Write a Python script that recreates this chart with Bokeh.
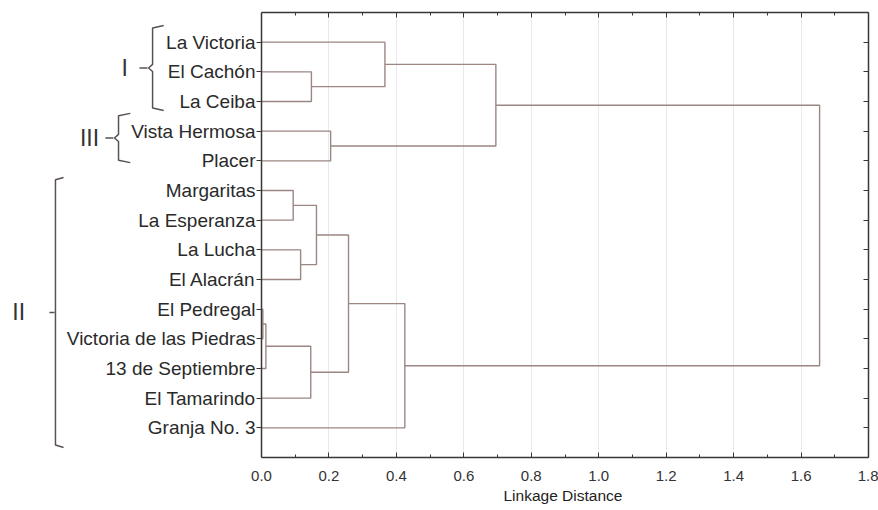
from bokeh.plotting import figure
from bokeh.models import Range1d, LinearAxis, FixedTicker, Title
from bokeh.core.properties import value
from bokeh.embed import file_html
from bokeh.resources import INLINE

# ---------------- data ----------------
leaves = ["La Victoria", "El Cachón", "La Ceiba", "Vista Hermosa", "Placer",
          "Margaritas", "La Esperanza", "La Lucha", "El Alacrán", "El Pedregal",
          "Victoria de las Piedras", "13 de Septiembre", "El Tamarindo", "Granja No. 3"]
# merges (numbered 14, 15, ... in order): child a, child b, linkage distance
merge_a = [1, 0, 3, 15, 5, 7, 18, 9, 21, 22, 20, 24, 17]
merge_b = [2, 14, 4, 16, 6, 8, 19, 10, 11, 12, 23, 13, 25]
merge_dist = [0.148, 0.366, 0.205, 0.695, 0.094, 0.116, 0.163, 0.004, 0.013,
              0.146, 0.258, 0.425, 1.655]

x_ticks = [0.0, 0.2, 0.4, 0.6, 0.8, 1.0, 1.2, 1.4, 1.6, 1.8]
x_tick_labels = ["0.0", "0.2", "0.4", "0.6", "0.8", "1.0", "1.2", "1.4", "1.6", "1.8"]
x_minor = [0.1, 0.3, 0.5, 0.7, 0.9, 1.1, 1.3, 1.5, 1.7]
x_title = "Linkage Distance"

# cluster groups marked by braces left of the labels
group_names = ["I", "III", "II"]
group_first = [0, 3, 5]
group_last = [2, 4, 13]

# ---------------- styling / layout constants ----------------
LINE = "#9c8683"
AXIS = "#3a3636"
BRACE = "#5a5252"
FONT = "Liberation Sans"
X_MIN = -0.774          # left part of the frame holds labels and braces

brace_x = [-0.323, -0.424, -0.611]
brace_hook = [0.033, 0.035, 0.024]
brace_top_pad = [0.56, 0.60, 0.44]
brace_bot_pad = [0.30, 0.06, 0.66]
brace_kink = [0.012, 0.012, 0.0]
brace_dash = [0.027, 0.027, 0.018]
numeral_x = [-0.406, -0.51, -0.72]

n = len(leaves)
leaf_pos = [i + 1 for i in range(n)]

p = figure(frame_width=868, frame_height=445,
           x_range=Range1d(X_MIN, 1.8), y_range=Range1d(n + 1, 0),
           y_axis_location=None,
           output_backend="svg", toolbar_location=None,
           min_border_left=0, min_border_right=10, min_border_top=12,
           min_border_bottom=0)
p.background_fill_color = "white"
p.border_fill_color = "white"
p.outline_line_color = None

# grid (only inside the distance range)
p.xgrid.ticker = FixedTicker(ticks=x_ticks[1:])
p.xgrid.grid_line_color = "#e9e9e9"
p.ygrid.visible = False

# dendrogram U-shapes computed from the linkage table
pos = {i: float(leaf_pos[i]) for i in range(n)}
hgt = {i: 0.0 for i in range(n)}
xs, ys = [], []
for k, (a, b, d) in enumerate(zip(merge_a, merge_b, merge_dist)):
    xs.append([hgt[a], d, d, hgt[b]])
    ys.append([pos[a], pos[a], pos[b], pos[b]])
    pos[n + k] = (pos[a] + pos[b]) / 2
    hgt[n + k] = d
p.multi_line(xs, ys, line_color=LINE, line_width=1.4)

# bottom axis
xa = p.xaxis[0]
xa.bounds = (0, 1.8)
xa.ticker = FixedTicker(ticks=x_ticks, minor_ticks=x_minor)
xa.major_label_overrides = {t: s for t, s in zip(x_ticks, x_tick_labels)}
xa.axis_line_color = AXIS
xa.axis_line_width = 1.5
xa.major_tick_line_color = AXIS
xa.minor_tick_line_color = AXIS
xa.major_tick_in = 5
xa.major_tick_out = 0
xa.minor_tick_in = 3
xa.minor_tick_out = 0
xa.major_label_standoff = 13
xa.major_label_text_font = FONT
xa.major_label_text_font_size = "15px"
xa.major_label_text_color = "#333333"

# axis title, centred under the distance axis
p.add_layout(Title(text=x_title, align="left", offset=503, standoff=3,
                   text_font=FONT, text_font_size="15.5px", text_font_style="normal",
                   text_color="#222222"), "below")

# left axis with the leaf names, pinned at distance 0
ya = LinearAxis(ticker=FixedTicker(ticks=leaf_pos), fixed_location=0,
                major_label_overrides={t: s for t, s in zip(leaf_pos, leaves)},
                axis_line_color=AXIS, axis_line_width=1.5,
                major_tick_line_color=AXIS, minor_tick_line_color=None,
                major_tick_in=0, major_tick_out=5, major_label_standoff=1,
                major_label_text_font=FONT, major_label_text_font_size="19px",
                major_label_text_color="#2a2a2a")
p.add_layout(ya, "left")

# top and right frame axes: ticks only
top = LinearAxis(ticker=FixedTicker(ticks=x_ticks, minor_ticks=x_minor), bounds=(0, 1.8),
                 major_label_text_color=None, major_label_text_font_size="1px",
                 major_label_standoff=0,
                 major_tick_in=5, major_tick_out=0, minor_tick_in=3, minor_tick_out=0,
                 axis_line_color=AXIS, axis_line_width=1.5,
                 major_tick_line_color=AXIS, minor_tick_line_color=AXIS)
p.add_layout(top, "above")
right = LinearAxis(ticker=FixedTicker(ticks=leaf_pos),
                   major_label_text_color=None, major_label_text_font_size="1px",
                   major_label_standoff=0,
                   major_tick_in=5, major_tick_out=0,
                   axis_line_color=AXIS, axis_line_width=1.5,
                   major_tick_line_color=AXIS, minor_tick_line_color=None)
p.add_layout(right, "right")

# ---------------- group braces ----------------
bxs, bys, tx, ty = [], [], [], []
for g in range(len(group_names)):
    xv = brace_x[g]
    y0 = leaf_pos[group_first[g]] - brace_top_pad[g]
    y1 = leaf_pos[group_last[g]] + brace_bot_pad[g]
    ym = (y0 + y1) / 2
    kk = brace_kink[g]
    bxs.append([xv + brace_hook[g], xv, xv, xv - kk, xv, xv, xv + brace_hook[g]])
    bys.append([y0, y0 + 0.08, ym - 0.12, ym, ym + 0.12, y1 - 0.08, y1])
    bxs.append([xv - kk - brace_dash[g], xv - kk - 0.003])
    bys.append([ym, ym])
    tx.append(numeral_x[g])
    ty.append(ym)
p.multi_line(bxs, bys, line_color=BRACE, line_width=1.5)
p.text(tx, ty, text=group_names, text_align="center", text_baseline="middle",
       text_font=value(FONT), text_font_size="23px", text_color="#333333")

open("out.html", "w").write(file_html(p, INLINE))
